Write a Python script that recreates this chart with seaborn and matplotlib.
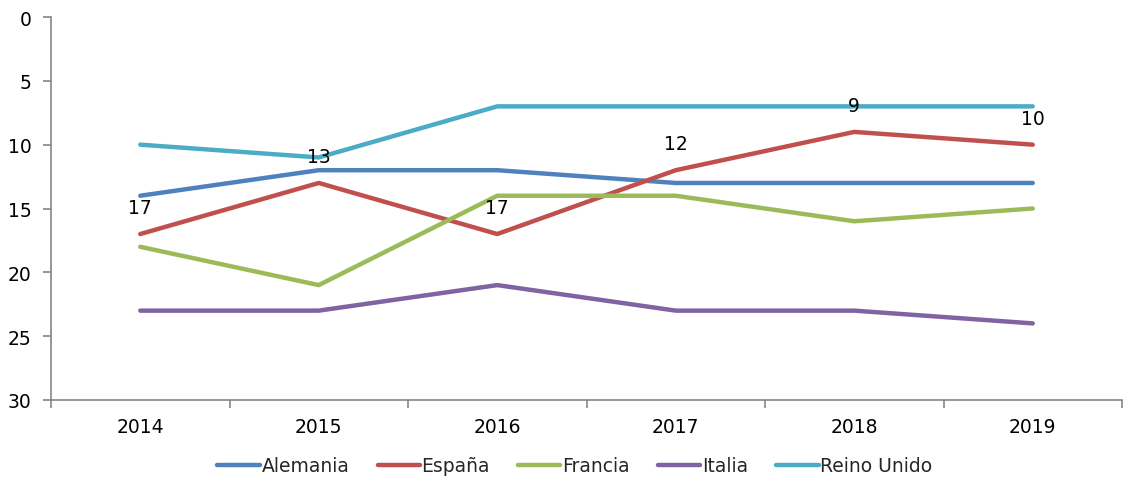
import matplotlib
matplotlib.use("Agg")
import matplotlib.pyplot as plt
import seaborn as sns
import pandas as pd
import numpy as np

# Ranking positions by year (lower number = better position)
years = ["2014", "2015", "2016", "2017", "2018", "2019"]
alemania = [14, 12, 12, 13, 13, 13]
espana = [17, 13, 17, 12, 9, 10]
francia = [18, 21, 14, 14, 16, 15]
italia = [23, 23, 21, 23, 23, 24]
reino_unido = [10, 11, 7, 7, 7, 7]

series = {
    "Alemania": alemania,
    "España": espana,
    "Francia": francia,
    "Italia": italia,
    "Reino Unido": reino_unido,
}
colors = {
    "Alemania": "#4F81BD",
    "España": "#C0504D",
    "Francia": "#9BBB59",
    "Italia": "#8064A2",
    "Reino Unido": "#4BACC6",
}

rows = []
for name, vals in series.items():
    for i, (y, v) in enumerate(zip(years, vals)):
        rows.append({"pos": i, "Año": y, "País": name, "Puesto": v})
df = pd.DataFrame(rows)

sns.set_theme(style="white")
plt.rcParams["font.family"] = ["DejaVu Sans"]
FS = 13.5

fig = plt.figure(figsize=(11.23, 4.81), dpi=100)
ax = fig.add_axes([51 / 1123, 1 - 401 / 481, 1071 / 1123, 383 / 481])

sns.lineplot(data=df, x="pos", y="Puesto", hue="País", palette=colors,
             linewidth=3.2, ax=ax, legend=True, sort=False)
for line in ax.get_lines():
    line.set_solid_capstyle("round")

# Value labels for España
for i, v in enumerate(espana):
    ax.annotate(str(v), xy=(i, v), xytext=(0, 19), textcoords="offset points",
                ha="center", va="center", fontsize=FS, color="black")

ax.set_xlim(-0.5, len(years) - 0.5)
ax.set_ylim(30, 0)
ax.set_yticks(np.arange(0, 31, 5))
ax.set_xticks(range(len(years)))
ax.set_xticklabels(years)
ax.set_xticks(np.arange(-0.5, len(years), 1), minor=True)
ax.tick_params(axis="x", which="major", bottom=True, length=0, pad=12,
               labelsize=FS, colors="black")
ax.tick_params(axis="x", which="minor", bottom=True, length=6, color="#868686",
               width=1.2, direction="out")
ax.tick_params(axis="y", which="major", left=True, length=6, color="#868686",
               width=1.2, direction="out", labelsize=FS, labelcolor="black", pad=8)
ax.set_xlabel("")
ax.set_ylabel("")

for side in ["top", "right"]:
    ax.spines[side].set_visible(False)
for side in ["left", "bottom"]:
    ax.spines[side].set_color("#868686")
    ax.spines[side].set_linewidth(1.2)

handles, labels = ax.get_legend_handles_labels()
ax.get_legend().remove()
fig.legend(handles, labels, loc="center", bbox_to_anchor=(0.512, 1 - 467 / 481),
           ncol=5, frameon=False, fontsize=FS, handlelength=2.25,
           handletextpad=0.1, columnspacing=1.5)

fig.savefig("out.png", dpi=100)
